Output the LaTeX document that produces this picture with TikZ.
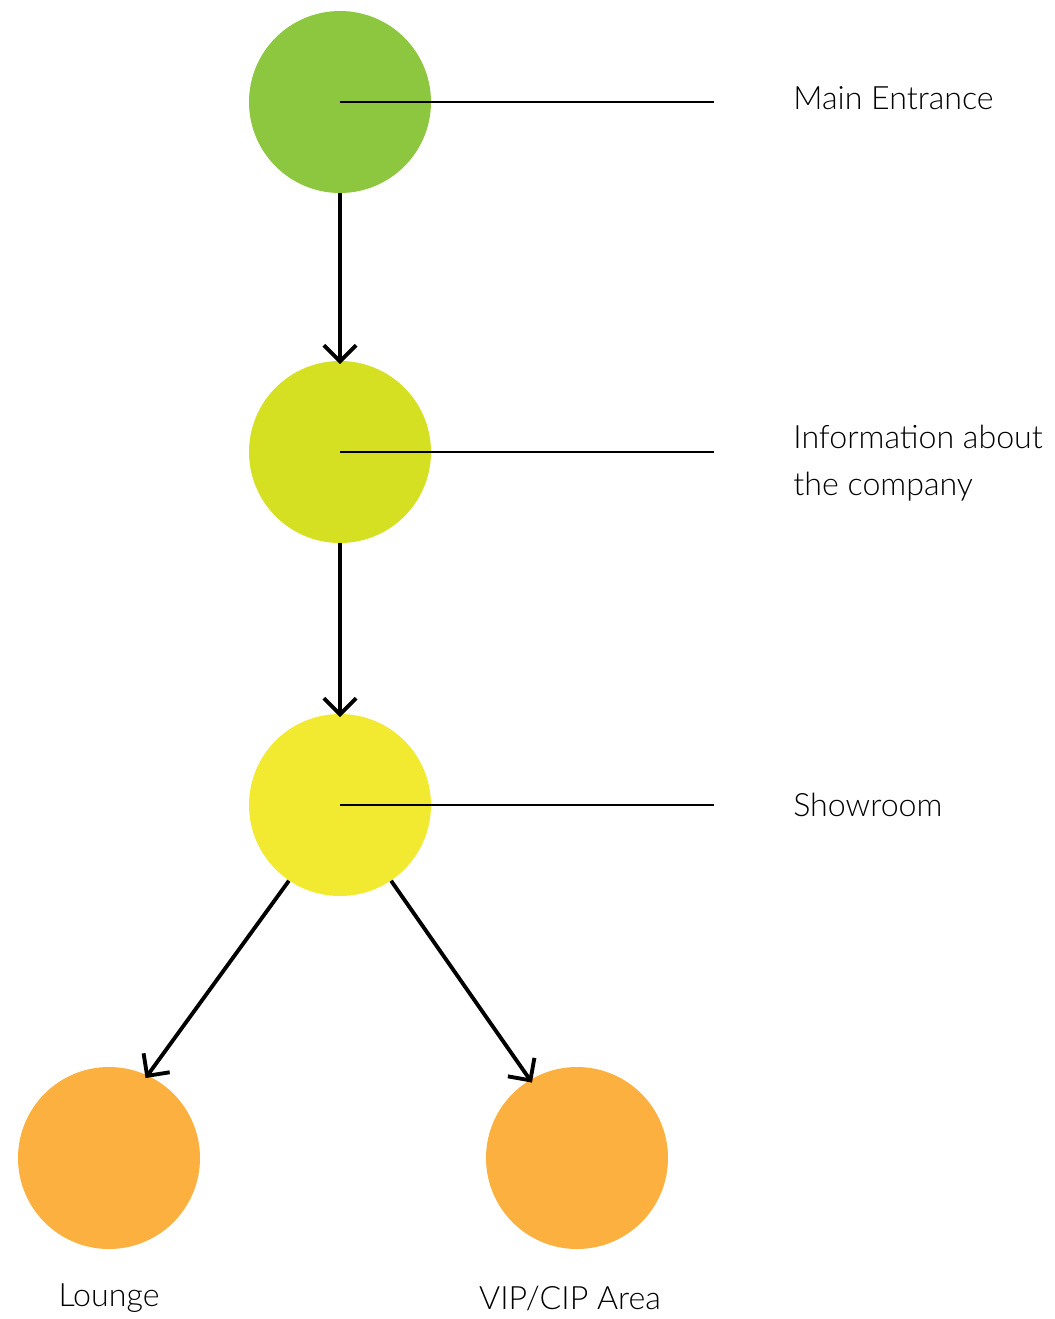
\documentclass[tikz,border=0pt]{standalone}
\usepackage{fontspec}
\setmainfont{Lato}[UprightFont={* Light}]
\usetikzlibrary{positioning,arrows.meta}

\definecolor{entrgreen}{HTML}{8DC63F}
\definecolor{infolime}{HTML}{D6E022}
\definecolor{showyellow}{HTML}{F2EA30}
\definecolor{roomorange}{HTML}{FBB040}

\begin{document}
\begin{tikzpicture}[node distance=7cm,on grid,
   room/.style={circle, minimum size=3.64cm, inner sep=0pt},
   lbl/.style={inner sep=0pt, font=\fontsize{18.3}{26.5}\selectfont, align=left},
   flow/.style={-{Straight Barb[angle=90:13pt]}, line width=2.2pt, shorten >=-2pt},
   tag/.style={line width=1.1pt}]
   \useasboundingbox (0,0) rectangle (21.1,-26.38);
   \node[room, fill=entrgreen] (entr) at (6.8,-2.04) {};
   \node[room, fill=infolime] (info) [below=of entr] {};
   \node[room, fill=showyellow] (show) [below=7.06cm of info] {};
   \node[room, fill=roomorange] (lounge) [below left=7.06cm and 4.62cm of show] {};
   \node[room, fill=roomorange] (vip) [below right=7.06cm and 4.74cm of show] {};
   % label lines
   \coordinate[right=7.48cm of entr] (entr_end);
   \coordinate[right=7.48cm of info] (info_end);
   \coordinate[right=7.48cm of show] (show_end);
   \path[tag]
    (entr.center) edge (entr_end)
    (info.center) edge (info_end)
    (show.center) edge (show_end);
   \node[lbl, on grid=false, right=1.58cm of entr_end, yshift=0.08cm] (entr_lbl) {Main Entrance};
   \node[lbl, on grid=false, right=1.58cm of info_end, yshift=-0.22cm] (info_lbl) {Information about\\the company};
   \node[lbl, on grid=false, right=1.58cm of show_end] (show_lbl) {Showroom};
   \node[lbl] (lounge_lbl) [below=2.8cm of lounge] {Lounge};
   \node[lbl] (vip_lbl) [below=2.8cm of vip, xshift=-0.14cm] {VIP/CIP Area};
   % flow
   \path[flow]
    (entr) edge (info)
    (info) edge (show)
    (show.236) edge (lounge.65)
    (show.304) edge (vip.121);
\end{tikzpicture}
\end{document}
